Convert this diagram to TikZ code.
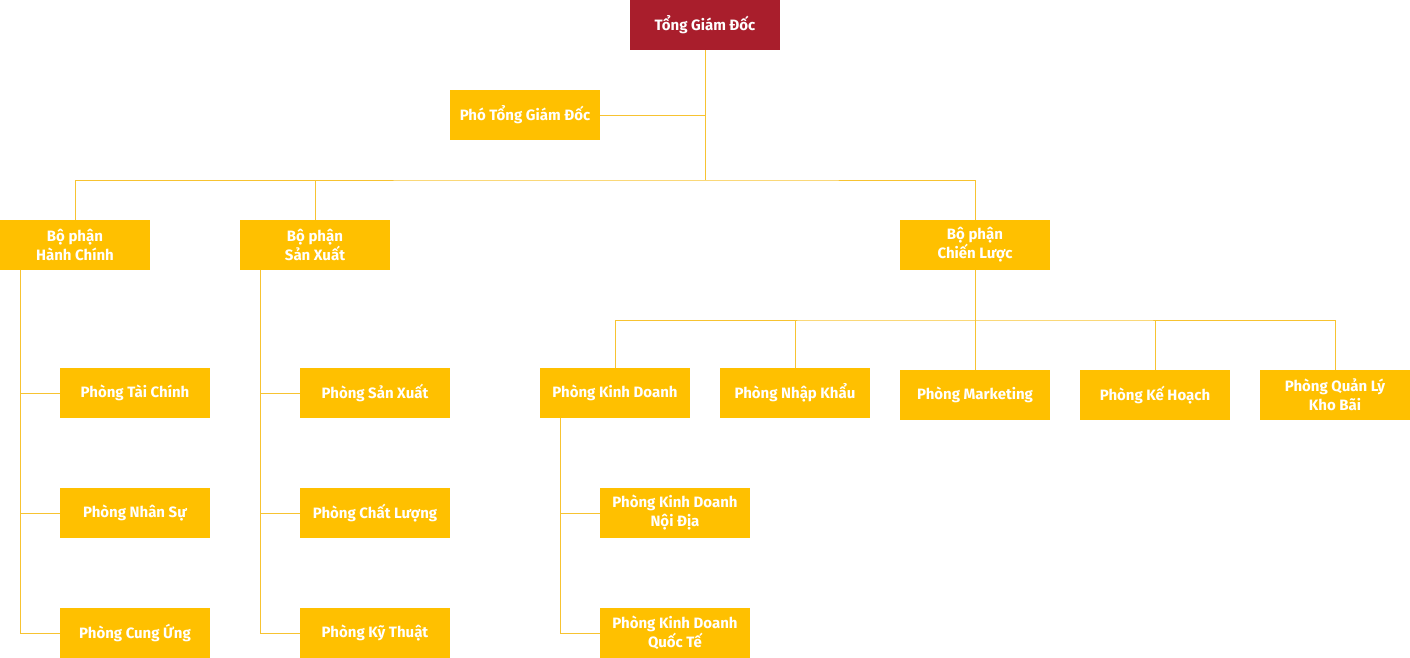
\documentclass[tikz,border=0pt]{standalone}
\usepackage{fontspec}
\setmainfont{Fira Sans}
\definecolor{boxyellow}{HTML}{FFC000}
\definecolor{topred}{HTML}{A91E2C}
\definecolor{linkyellow}{HTML}{F7C331}
\begin{document}
\begin{tikzpicture}[x=1pt,y=-1pt,
                    link/.style={draw=linkyellow,line width=0.9pt},
                    unit box/.style={rectangle,fill=boxyellow,text=white,minimum width=150pt,minimum height=50pt,
                        inner sep=0pt,align=center,font=\fontsize{15}{19}\selectfont\bfseries}]

    \useasboundingbox (0,0) rectangle (1410,658);

    % Define vertices
    \node[unit box,fill=topred] (TGD) at (705,25) {Tổng Giám Đốc};
    \node[unit box] (PTGD) at (525,115) {Phó Tổng Giám Đốc};

    \node[unit box] (HC) at (75,245) {Bộ phận\\Hành Chính};
    \node[unit box] (SX) at (315,245) {Bộ phận\\Sản Xuất};
    \node[unit box] (CL) at (975,245) {Bộ phận\\Chiến Lược};

    \node[unit box] (TC) at (135,393) {Phòng Tài Chính};
    \node[unit box] (NS) at (135,513) {Phòng Nhân Sự};
    \node[unit box] (CU) at (135,633) {Phòng Cung Ứng};

    \node[unit box] (PSX) at (375,393) {Phòng Sản Xuất};
    \node[unit box] (CLG) at (375,513) {Phòng Chất Lượng};
    \node[unit box] (KT) at (375,633) {Phòng Kỹ Thuật};

    \node[unit box] (KD) at (615,393) {Phòng Kinh Doanh};
    \node[unit box] (NK) at (795,393) {Phòng Nhập Khẩu};
    \node[unit box] (MK) at (975,395) {Phòng Marketing};
    \node[unit box] (KH) at (1155,395) {Phòng Kế Hoạch};
    \node[unit box] (QL) at (1335,395) {Phòng Quản Lý\\Kho Bãi};

    \node[unit box] (KDND) at (675,513) {Phòng Kinh Doanh\\Nội Địa};
    \node[unit box] (KDQT) at (675,633) {Phòng Kinh Doanh\\Quốc Tế};

    \coordinate (J1) at (705,180);
    \coordinate (J2) at (975,320);
    \coordinate (HCbar) at (20,270);
    \coordinate (SXbar) at (260,270);
    \coordinate (KDbar) at (560,418);

    % Define edges
    \draw[link] (TGD) -- (J1);
    \draw[link] (PTGD.east) -- (PTGD.east -| TGD);
    \draw[link] (HC.north) |- (J1) -| (CL.north);
    \draw[link] (SX.north) -- (SX.north |- J1);

    \draw[link] (CL.south) -- (J2);
    \draw[link] (KD.north) |- (J2) -| (QL.north);
    \draw[link] (NK.north) -- (NK.north |- J2);
    \draw[link] (MK.north) -- (MK.north |- J2);
    \draw[link] (KH.north) -- (KH.north |- J2);

    \draw[link] (HCbar) |- (CU.west);
    \draw[link] (HCbar |- TC.west) -- (TC.west);
    \draw[link] (HCbar |- NS.west) -- (NS.west);

    \draw[link] (SXbar) |- (KT.west);
    \draw[link] (SXbar |- PSX.west) -- (PSX.west);
    \draw[link] (SXbar |- CLG.west) -- (CLG.west);

    \draw[link] (KDbar) |- (KDQT.west);
    \draw[link] (KDbar |- KDND.west) -- (KDND.west);

\end{tikzpicture}
\end{document}
